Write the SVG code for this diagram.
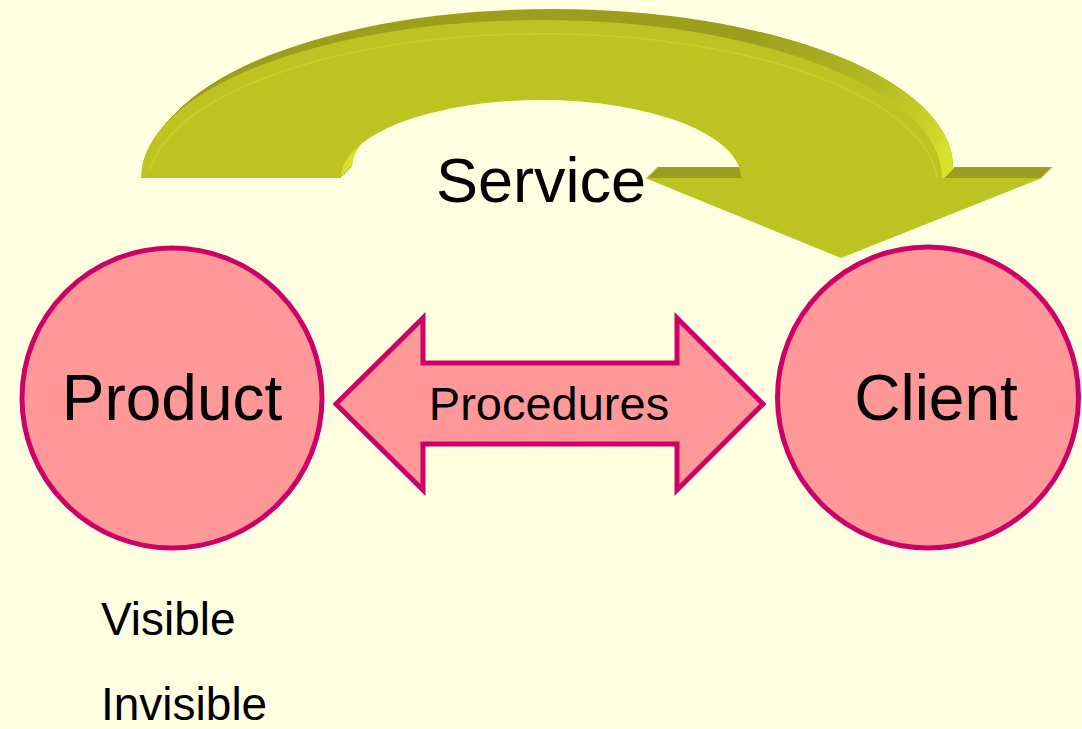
<svg xmlns="http://www.w3.org/2000/svg" xmlns:xlink="http://www.w3.org/1999/xlink" width="1082" height="729" viewBox="0 0 1082 729">
  <style>
    .lbl { font-family: "Liberation Sans", Arial, sans-serif; fill: #000; }
    .node { fill: #FF9999; stroke: #CC0066; stroke-width: 5; }
  </style>
  <defs>
    <!-- front face of the curved 3D arrow -->
    <path id="arcFace" d="M 141 178 A 400.5 158 0 0 1 942 178 L 1042 178 L 841 258 L 645 178 L 741 178 A 200 78 0 0 0 341 178 Z"/>
    <linearGradient id="sideLight" x1="0" y1="40" x2="0" y2="160" gradientUnits="userSpaceOnUse">
      <stop offset="0" stop-color="#9C9F1D"/>
      <stop offset="1" stop-color="#D8E22B"/>
    </linearGradient>
    <clipPath id="litSides">
      <polygon points="760,0 1000,0 1000,150 955,167 942,180 760,180"/>
      <rect x="335" y="110" width="30" height="70"/>
    </clipPath>
  </defs>

  <rect width="1082" height="729" fill="#FFFFE1"/>

  <g id="service-arrow">
    <!-- extrusion: swept copies of the face -->
    <g fill="#9C9F1D">
      <use xlink:href="#arcFace" transform="translate(11,-11)"/>
      <use xlink:href="#arcFace" transform="translate(10,-10)"/>
      <use xlink:href="#arcFace" transform="translate(9,-9)"/>
      <use xlink:href="#arcFace" transform="translate(8,-8)"/>
      <use xlink:href="#arcFace" transform="translate(7,-7)"/>
      <use xlink:href="#arcFace" transform="translate(6,-6)"/>
      <use xlink:href="#arcFace" transform="translate(5,-5)"/>
      <use xlink:href="#arcFace" transform="translate(4,-4)"/>
      <use xlink:href="#arcFace" transform="translate(3,-3)"/>
      <use xlink:href="#arcFace" transform="translate(2,-2)"/>
      <use xlink:href="#arcFace" transform="translate(1,-1)"/>
    </g>
    <!-- lit side faces -->
    <g fill="url(#sideLight)" clip-path="url(#litSides)">
      <use xlink:href="#arcFace" transform="translate(11,-11)"/>
      <use xlink:href="#arcFace" transform="translate(9,-9)"/>
      <use xlink:href="#arcFace" transform="translate(7,-7)"/>
      <use xlink:href="#arcFace" transform="translate(5,-5)"/>
      <use xlink:href="#arcFace" transform="translate(3,-3)"/>
      <use xlink:href="#arcFace" transform="translate(1,-1)"/>
    </g>
    <use xlink:href="#arcFace" fill="#BDC422"/>
    <!-- bevel highlight just inside the outer edge -->
    <path d="M 150 170 A 395 153 0 0 1 937 178" fill="none" stroke="#C8D027" stroke-width="1.5"/>
    <text class="lbl" x="541" y="202" font-size="63" text-anchor="middle">Service</text>
  </g>

  <g id="connectors">
    <g id="procedures">
      <polygon class="node" stroke-width="4.5" points="336,404 423,318 423,363 677,363 677,318 763,404 677,490 677,444 423,444 423,490"/>
      <text class="lbl" x="549" y="420" font-size="47" text-anchor="middle">Procedures</text>
    </g>
  </g>

  <g id="product">
    <circle class="node" cx="172" cy="398" r="150"/>
    <text class="lbl" x="172" y="420" font-size="64" text-anchor="middle">Product</text>
  </g>

  <g id="client">
    <circle class="node" cx="928" cy="397.5" r="150.5"/>
    <text class="lbl" x="936" y="420" font-size="64" text-anchor="middle">Client</text>
  </g>

  <g id="notes">
    <text class="lbl" x="101" y="635" font-size="46">Visible</text>
    <text class="lbl" x="101" y="720" font-size="46">Invisible</text>
  </g>
</svg>
